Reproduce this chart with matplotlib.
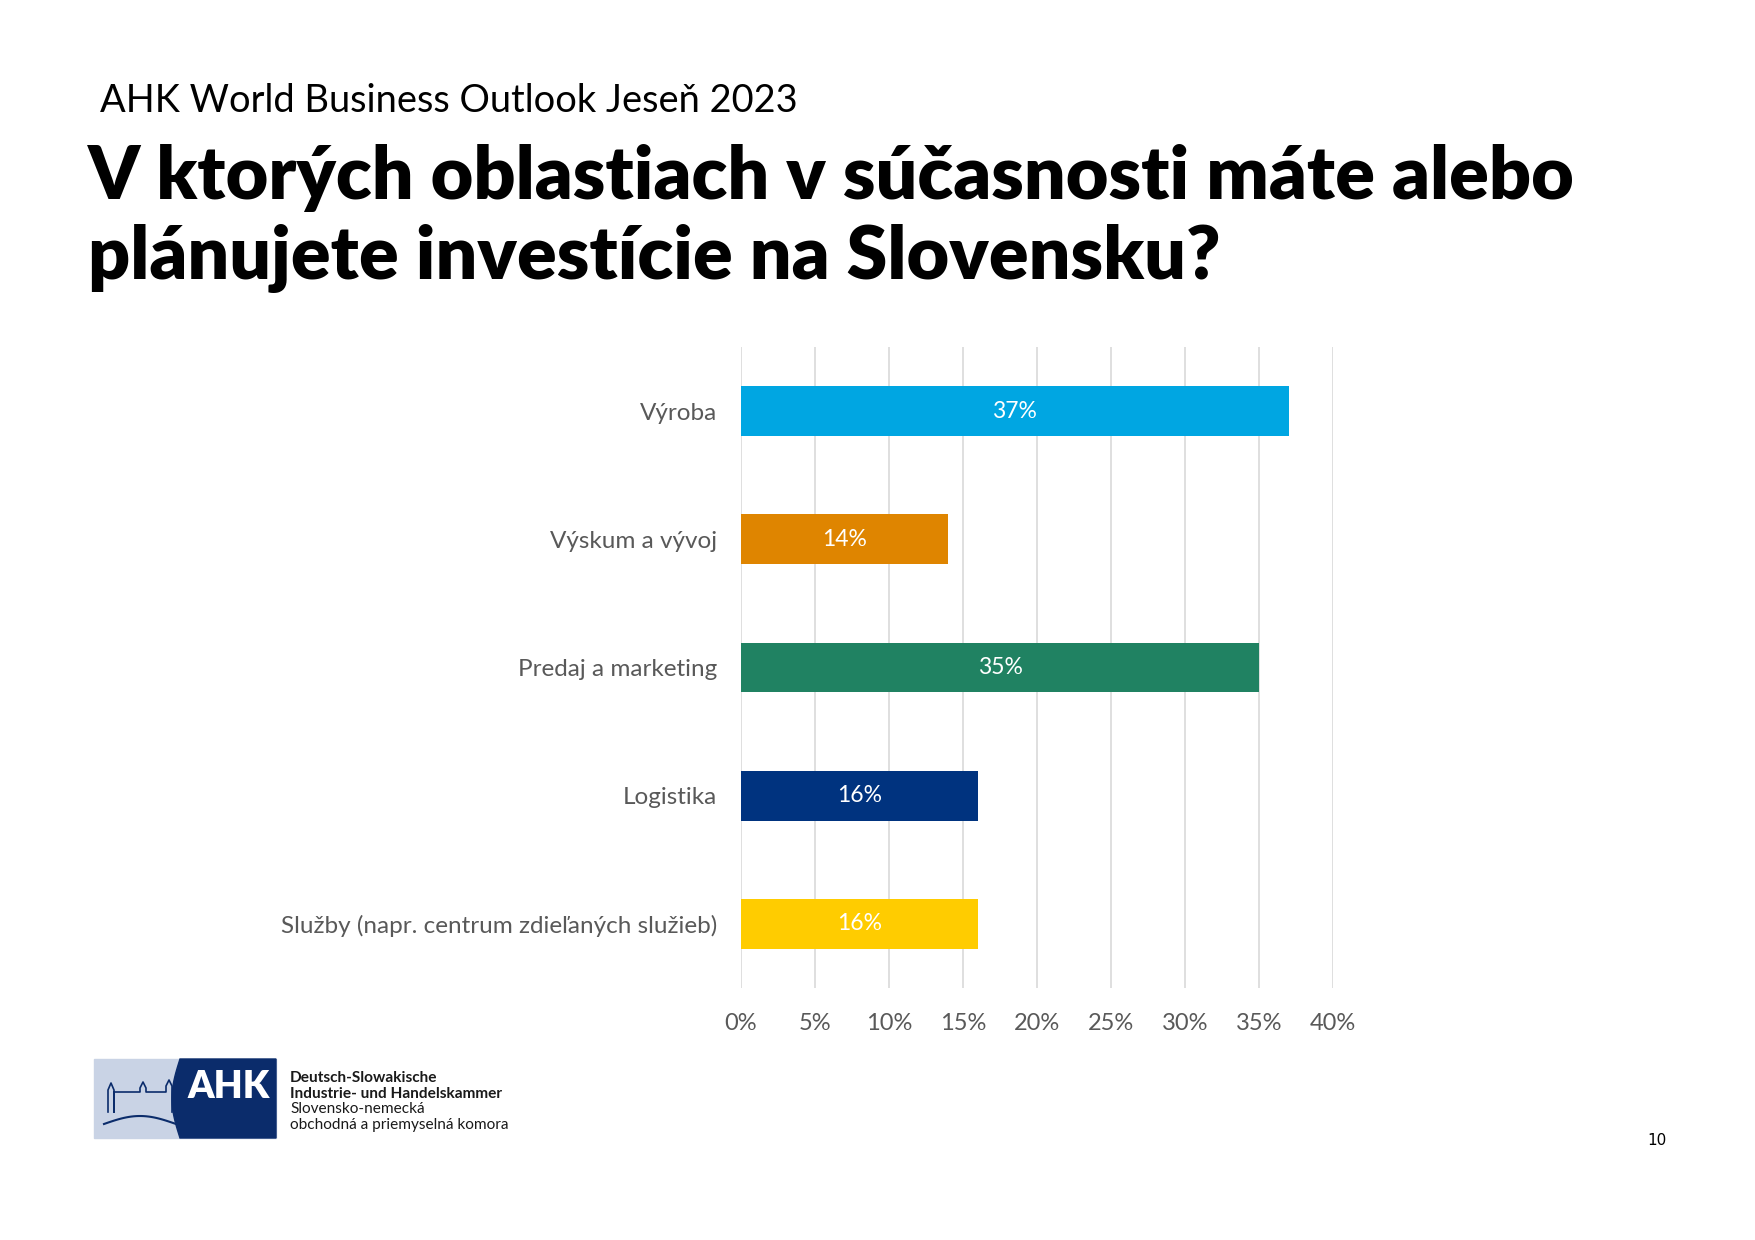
import numpy as np
import matplotlib.pyplot as plt
from matplotlib.patches import Rectangle, Polygon

plt.rcParams['font.family'] = ['Lato', 'DejaVu Sans']

# data
categories = ['Výroba', 'Výskum a vývoj', 'Predaj a marketing', 'Logistika',
              'Služby (napr. centrum zdieľaných služieb)']
values = [37, 14, 35, 16, 16]
colors = ['#00A6E2', '#DF8500', '#208262', '#00337F', '#FFCC00']
xticks = [0, 5, 10, 15, 20, 25, 30, 35, 40]

W, H = 1755, 1240
fig = plt.figure(figsize=(W / 100, H / 100), dpi=100)


def fx(px):
    return px / W


def fy(py):
    return 1 - py / H


# headings
fig.text(fx(100), fy(112), 'AHK World Business Outlook Jeseň 2023',
         fontsize=27.4, color='black', va='baseline')
fig.text(fx(88), fy(199), 'V ktorých oblastiach v súčasnosti máte alebo',
         fontsize=52.9, fontweight='heavy', va='baseline')
fig.text(fx(88), fy(279), 'plánujete investície na Slovensku?',
         fontsize=52.9, fontweight='heavy', va='baseline')

# chart
ax = fig.add_axes([fx(741), fy(988), fx(1333) - fx(741), (988 - 347) / H])
y = np.arange(len(categories))
bars = ax.barh(y, values, height=0.39, color=colors, zorder=3)
for b, v in zip(bars, values):
    ax.text(v / 2, b.get_y() + b.get_height() / 2, f'{v}%', color='white',
            ha='center', va='center', fontsize=16.5, zorder=4)

ax.set_xlim(0, 40)
ax.set_ylim(len(categories) - 0.5, -0.5)
ax.set_xticks(xticks)
ax.set_xticklabels([f'{t}%' for t in xticks])
ax.set_yticks(y)
ax.set_yticklabels(categories)
ax.tick_params(axis='both', length=0, colors='#595959', labelsize=17)
ax.tick_params(axis='y', pad=17, labelsize=17.5)
ax.tick_params(axis='x', pad=18)
ax.grid(axis='x', color='#D9D9D9', linewidth=1.2, zorder=0)
for s in ax.spines.values():
    s.set_visible(False)

# logo
lx0, lx1, ly0, ly1 = 94, 276, 1059, 1138
fig.patches.append(Rectangle((fx(lx0), fy(ly1)), fx(lx1 - lx0), (ly1 - ly0) / H,
                             transform=fig.transFigure, color='#C9D3E5'))
curve_y = np.linspace(ly0, ly1, 30)
curve_x = 180 - 8 * np.sin(np.pi * (curve_y - ly0) / (ly1 - ly0))
pts = [(fx(lx1), fy(ly0))] + [(fx(a), fy(b)) for a, b in zip(curve_x, curve_y)] + [(fx(lx1), fy(ly1))]
fig.patches.append(Polygon(pts, closed=True, transform=fig.transFigure, color='#0B2C6B'))
fig.text(fx(229), fy(1087), 'AHK', color='white', fontsize=27, fontweight='heavy',
         ha='center', va='center')
# castle sketch
cx = [108, 108, 111, 114, 114, 114, 140, 140, 143, 146, 146, 146, 166, 166, 169, 172, 172]
cy = [1112, 1090, 1083, 1090, 1112, 1092, 1092, 1088, 1082, 1088, 1092, 1092, 1092, 1086, 1080, 1086, 1112]
fig.lines.append(plt.Line2D([fx(a) for a in cx], [fy(b) for b in cy],
                            transform=fig.transFigure, color='#0B2C6B', linewidth=1.2))
ax_x = np.linspace(104, 176, 30)
ax_y = 1124 - 8 * np.sin(np.pi * (ax_x - 104) / 72)
fig.lines.append(plt.Line2D(fx(ax_x), fy(ax_y), transform=fig.transFigure,
                            color='#0B2C6B', linewidth=1.5))

logo_lines = [('Deutsch-Slowakische', 'bold'), ('Industrie- und Handelskammer', 'bold'),
              ('Slovensko-nemecká', 'normal'), ('obchodná a priemyselná komora', 'normal')]
for i, (t, w) in enumerate(logo_lines):
    fig.text(fx(290), fy(1082 + i * 15.7), t, fontsize=11.1, fontweight=w,
             color='#1A1A1A', va='baseline')

fig.text(fx(1657), fy(1145), '10', fontsize=11, color='black', ha='center',
         va='baseline', family='DejaVu Sans')

fig.savefig('out.png', dpi=100)
